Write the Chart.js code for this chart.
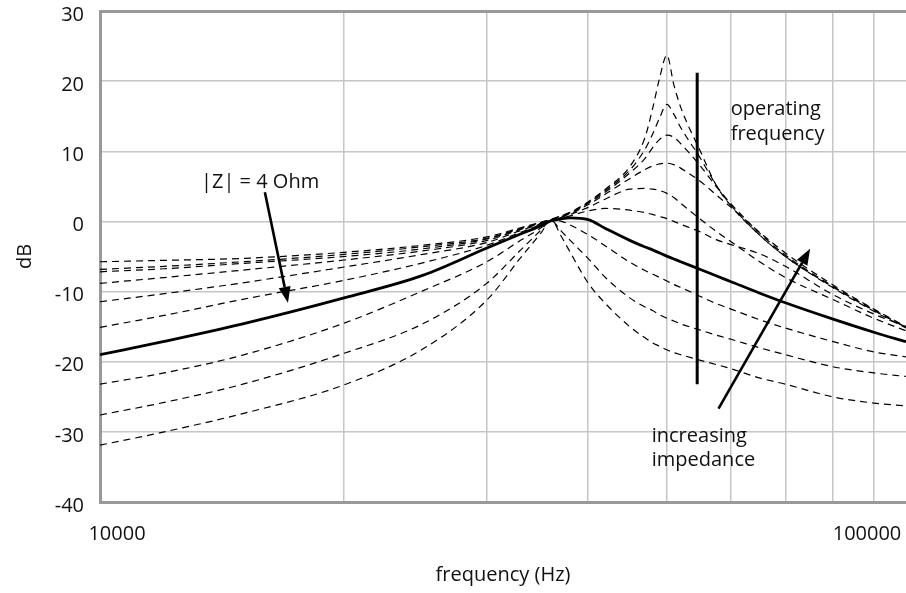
<!DOCTYPE html>
<html>
<head>
<meta charset="utf-8">
<script src="https://cdn.jsdelivr.net/npm/chart.js@4.4.1/dist/chart.umd.min.js"></script>
<style>
  html, body { margin: 0; padding: 0; background: #fff; }
</style>
</head>
<body>
<canvas id="chart" width="906" height="593"></canvas>
<script>
// frequency grid (Hz) shared by every curve
const freqs = [10000, 12000, 15000, 20000, 25000, 30000, 33000, 35000, 36000, 37000, 38000,
  40000, 42000, 45000, 47000, 48000, 49000, 50000, 51000, 52000, 55000, 57500, 60000,
  65000, 70000, 80000, 90000, 98600];

// dashed curves, highest impedance first
const curveA = [-5.75, -5.55, -5.27, -4.4, -3.4, -2.2, -0.9, -0.1, 0.3, 0.8, 1.3, 2.8, 4.6, 7.8, 12.0, 16.0, 20.5, 23.7, 19.5, 16.3, 10.0, 5.2, 2.2, -1.9, -5.0, -9.4, -12.8, -15.2];
const curveB = [-6.84, -6.4, -5.75, -4.7, -3.6, -2.4, -1.0, -0.15, 0.3, 0.75, 1.25, 2.7, 4.4, 7.3, 10.3, 12.4, 14.8, 16.7, 15.3, 13.4, 9.0, 5.2, 2.3, -1.9, -5.0, -9.3, -12.7, -15.1];
const curveC = [-7.18, -6.75, -5.98, -5.0, -3.9, -2.5, -1.05, -0.2, 0.25, 0.7, 1.2, 2.6, 4.2, 6.9, 9.0, 10.5, 11.7, 12.3, 12.0, 11.1, 7.9, 5.0, 2.5, -1.6, -4.8, -9.2, -12.6, -15.1];
const curveD = [-8.83, -8.0, -6.94, -5.5, -4.2, -2.7, -1.15, -0.25, 0.2, 0.65, 1.1, 2.4, 3.9, 6.1, 7.4, 7.9, 8.2, 8.3, 8.1, 7.6, 5.7, 3.8, 2.0, -1.5, -4.5, -9.0, -12.5, -15.0];
const curveE = [-11.45, -10.3, -8.75, -6.5, -4.7, -3.0, -1.3, -0.35, 0.15, 0.55, 1.0, 2.0, 3.2, 4.6, 4.7, 4.6, 4.4, 4.0, 3.4, 2.6, 0.3, -1.4, -2.9, -5.7, -8.0, -11.1, -13.8, -15.6];
const curveF = [-15.1, -13.4, -11.1, -8.4, -5.9, -3.4, -1.55, -0.45, 0.1, 0.45, 0.8, 1.5, 1.85, 1.6, 1.25, 1.0, 0.7, 0.4, 0.0, -0.4, -1.5, -2.6, -3.3, -4.6, -6.4, -10.4, -13.2, -15.0];
const curveG = [-23.2, -21.6, -19.05, -14.5, -9.9, -5.75, -2.7, -0.9, 0.15, 0.05, -0.5, -1.9, -3.5, -5.8, -7.0, -7.5, -8.0, -8.5, -9.0, -9.4, -10.7, -11.7, -12.5, -14.0, -15.2, -17.1, -18.6, -19.3];
const curveH = [-27.6, -25.8, -23.2, -18.8, -14.6, -8.8, -4.1, -1.2, 0.1, -1.3, -2.7, -5.3, -8.0, -10.9, -12.2, -12.7, -13.3, -13.8, -14.2, -14.6, -15.5, -16.2, -16.8, -18.0, -19.0, -20.7, -21.6, -22.1];
const curveI = [-31.9, -30.0, -27.4, -23.3, -18.2, -11.2, -5.2, -1.6, 0.2, -2.0, -4.4, -8.8, -11.7, -15.0, -16.6, -17.3, -17.8, -18.3, -18.7, -19.0, -19.8, -20.4, -21.0, -22.3, -23.2, -25.0, -25.9, -26.3];

// solid curve, |Z| = 4 Ohm
const z4Ohm = [-19.0, -17.1, -14.6, -10.9, -7.7, -3.8, -1.8, -0.6, 0.1, 0.35, 0.5, 0.25, -1.0, -2.7, -3.65, -4.05, -4.5, -4.95, -5.35, -5.75, -6.85, -7.75, -8.6, -10.2, -11.6, -13.9, -15.8, -17.15];

// operating frequency marker
const opFreq = 54500;
const opRange = [21.2, -23.2];

// axes
const xGrid = [10000, 20000, 30000, 40000, 50000, 60000, 70000, 80000, 90000];
const xLabels = ["10000", "100000"];
const yTicks = [-40, -30, -20, -10, 0, 10, 20, 30];

// annotations in data coordinates
const notes = [
  { text: "|Z| = 4 Ohm", f: 13320, db: 4.74 },
  { text: "operating", f: 59940, db: 15.14 },
  { text: "frequency", f: 59940, db: 11.58 },
  { text: "increasing", f: 47900, db: -31.4 },
  { text: "impedance", f: 47900, db: -34.8 },
];
const arrows = [
  { from: [15970, 4.17], to: [17050, -11.6] },
  { from: [57900, -26.7], to: [75100, -3.9] },
];

const FONT = '"Open Sans", "Noto Sans", sans-serif';
const dashed = [curveA, curveB, curveC, curveD, curveE, curveF, curveG, curveH, curveI];

const pts = (arr) => freqs.map((f, i) => ({ x: f, y: arr[i] }));

const datasets = dashed.map((arr) => ({
  data: pts(arr),
  borderColor: "#000",
  borderWidth: 1.2,
  borderDash: [7, 5],
  pointRadius: 0,
  cubicInterpolationMode: "monotone",
}));
datasets.push({
  data: pts(z4Ohm),
  borderColor: "#000",
  borderWidth: 2.8,
  pointRadius: 0,
  cubicInterpolationMode: "monotone",
});
datasets.push({
  data: opRange.map((v) => ({ x: opFreq, y: v })),
  borderColor: "#000",
  borderWidth: 3,
  pointRadius: 0,
});

const annotate = {
  id: "annotate",
  afterDatasetsDraw(chart) {
    const { ctx, chartArea } = chart;
    const xs = chart.scales.x;
    const ys = chart.scales.y;
    ctx.save();
    ctx.fillStyle = "#111";
    ctx.font = "20px " + FONT;
    ctx.textBaseline = "alphabetic";
    ctx.textAlign = "left";
    notes.forEach((n) => {
      ctx.fillText(n.text, xs.getPixelForValue(n.f), ys.getPixelForValue(n.db));
    });

    // x tick labels as placed in the original
    ctx.textAlign = "center";
    const ly = chartArea.bottom + 38;
    ctx.fillText(xLabels[0], xs.getPixelForValue(10000) + 17, ly);
    ctx.fillText(xLabels[1], chartArea.right - 39, ly);

    ctx.strokeStyle = "#000";
    ctx.fillStyle = "#000";
    ctx.lineWidth = 2.6;
    arrows.forEach((a) => {
      const x1 = xs.getPixelForValue(a.from[0]);
      const y1 = ys.getPixelForValue(a.from[1]);
      const x2 = xs.getPixelForValue(a.to[0]);
      const y2 = ys.getPixelForValue(a.to[1]);
      const ang = Math.atan2(y2 - y1, x2 - x1);
      const head = 16;
      const bx = x2 - head * Math.cos(ang);
      const by = y2 - head * Math.sin(ang);
      ctx.beginPath();
      ctx.moveTo(x1, y1);
      ctx.lineTo(bx, by);
      ctx.stroke();
      ctx.beginPath();
      ctx.moveTo(x2, y2);
      ctx.lineTo(bx + 6 * Math.sin(ang), by - 6 * Math.cos(ang));
      ctx.lineTo(bx - 6 * Math.sin(ang), by + 6 * Math.cos(ang));
      ctx.closePath();
      ctx.fill();
    });
    ctx.restore();
  },
};

new Chart(document.getElementById("chart"), {
  type: "line",
  data: { datasets },
  plugins: [annotate],
  options: {
    responsive: false,
    animation: false,
    devicePixelRatio: 1,
    layout: { padding: { top: 11, right: 0, left: 0, bottom: 0 } },
    plugins: { legend: { display: false }, tooltip: { enabled: false } },
    scales: {
      x: {
        type: "logarithmic",
        min: 10000,
        max: 98600,
        afterBuildTicks: (s) => { s.ticks = xGrid.map((v) => ({ value: v })); },
        afterFit: (s) => { s.height = 91; s.paddingLeft = 0; s.paddingRight = 0; },
        ticks: { display: false },
        grid: { color: "#c6c6c6", lineWidth: 1.5, drawTicks: false },
        border: { color: "#999", width: 3 },
        title: {
          display: true,
          text: "frequency (Hz)",
          color: "#111",
          font: { family: FONT, size: 20 },
          padding: { bottom: 6 },
        },
      },
      y: {
        min: -40,
        max: 30,
        afterBuildTicks: (s) => { s.ticks = yTicks.map((v) => ({ value: v })); },
        afterFit: (s) => { s.width = 100; s.paddingTop = 0; s.paddingBottom = 0; },
        ticks: {
          padding: 16,
          labelOffset: 4,
          color: "#111",
          font: { family: FONT, size: 20, lineHeight: 1 },
        },
        grid: {
          color: (c) => (c.tick && c.tick.value === 30 ? "#999" : "#c6c6c6"),
          lineWidth: (c) => (c.tick && c.tick.value === 30 ? 3 : 1.5),
          drawTicks: false,
        },
        border: { color: "#999", width: 3 },
        title: {
          display: true,
          text: "dB",
          color: "#111",
          font: { family: FONT, size: 20 },
          padding: { top: 13 },
        },
      },
    },
  },
});
</script>
</body>
</html>
